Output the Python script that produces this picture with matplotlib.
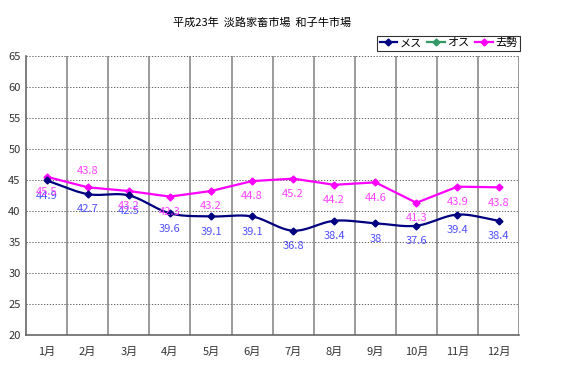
import numpy as np
import matplotlib
matplotlib.use("Agg")
import matplotlib.pyplot as plt
from matplotlib.lines import Line2D

plt.rcParams['font.family'] = ['Noto Sans CJK JP', 'DejaVu Sans']

# data
months = ['1月', '2月', '3月', '4月', '5月', '6月', '7月', '8月', '9月', '10月', '11月', '12月']
mesu = [44.9, 42.7, 42.5, 39.6, 39.1, 39.1, 36.8, 38.4, 38.0, 37.6, 39.4, 38.4]
mesu_labels = ['44.9', '42.7', '42.5', '39.6', '39.1', '39.1', '36.8', '38.4', '38', '37.6', '39.4', '38.4']
kyosei = [45.5, 43.8, 43.2, 42.3, 43.2, 44.8, 45.2, 44.2, 44.6, 41.3, 43.9, 43.8]
kyosei_labels = ['45.5', '43.8', '43.2', '42.3', '43.2', '44.8', '45.2', '44.2', '44.6', '41.3', '43.9', '43.8']
kyosei_above = [False, True, False, False, False, False, False, False, False, False, False, False]

NAVY = '#000080'
PINK = '#ff00ff'
GREEN = '#339966'


def smooth(x, y, n=20):
    # catmull-rom curve through the points, like excel's smoothed line
    x = np.asarray(x, float)
    y = np.asarray(y, float)
    px = np.concatenate([[2 * x[0] - x[1]], x, [2 * x[-1] - x[-2]]])
    py = np.concatenate([[2 * y[0] - y[1]], y, [2 * y[-1] - y[-2]]])
    xs, ys = [], []
    t = np.linspace(0, 1, n, endpoint=False)
    for i in range(1, len(px) - 2):
        for p, out in ((px, xs), (py, ys)):
            p0, p1, p2, p3 = p[i - 1], p[i], p[i + 1], p[i + 2]
            out.extend(0.5 * ((2 * p1) + (-p0 + p2) * t
                              + (2 * p0 - 5 * p1 + 4 * p2 - p3) * t ** 2
                              + (-p0 + 3 * p1 - 3 * p2 + p3) * t ** 3))
    xs.append(x[-1])
    ys.append(y[-1])
    return xs, ys


fig = plt.figure(figsize=(5.8, 3.7), dpi=100)
ax = fig.add_axes([0.045, 0.095, 0.85, 0.754])

x = np.arange(len(months))
ax.set_xlim(-0.5, len(months) - 0.5)
ax.set_ylim(20, 65)

# grid
for yv in range(25, 66, 5):
    ax.axhline(yv, color='#444444', lw=0.6, ls=(0, (1.5, 2)), zorder=1)
for xv in np.arange(0.5, len(months) - 0.5, 1):
    ax.axvline(xv, color='#808080', lw=1.1, zorder=1)
ax.axvline(len(months) - 0.5, color='#909090', lw=1.3, zorder=1)

sx, sy = smooth(x, mesu)
ax.plot(sx, sy, color=NAVY, lw=1.6, zorder=3)
ax.plot(x, mesu, ls='none', marker='D', ms=3.5, color=NAVY, zorder=4)
ax.plot(x, kyosei, color=PINK, lw=1.6, marker='D', ms=3.5, zorder=3)

for xi, v, s in zip(x, mesu, mesu_labels):
    ax.annotate(s, (xi, v), xytext=(0, -11), textcoords='offset points',
                ha='center', va='center', fontsize=8, color='#5050ff', zorder=5)
for xi, v, s, up in zip(x, kyosei, kyosei_labels, kyosei_above):
    ax.annotate(s, (xi, v), xytext=(0, 12 if up else -11), textcoords='offset points',
                ha='center', va='center', fontsize=8, color='#ff44ff', zorder=5)

ax.set_xticks(x)
ax.set_xticklabels(months)
ax.set_yticks(range(20, 66, 5))
ax.tick_params(axis='both', length=0, labelsize=8, colors='#333333', pad=9)
ax.tick_params(axis='y', pad=4)
for side in ('top', 'right'):
    ax.spines[side].set_visible(False)
for side in ('left', 'bottom'):
    ax.spines[side].set_color('#666666')
    ax.spines[side].set_linewidth(1.2)

fig.text(0.452, 0.94, '平成23年  淡路家畜市場  和子牛市場', ha='center', va='center',
         fontsize=8, color='black')

handles = [Line2D([], [], color=c, lw=1.6, marker='D', ms=3.5) for c in (NAVY, GREEN, PINK)]
leg = fig.legend(handles, ['メス', 'オス', '去勢'], loc='center right',
                 bbox_to_anchor=(0.896, 0.883), ncol=3, fontsize=8, frameon=True,
                 fancybox=False, edgecolor='black', handlelength=1.6, handletextpad=0.2,
                 columnspacing=0.5, borderpad=0.2, borderaxespad=0)
leg.get_frame().set_linewidth(0.8)

fig.savefig('out.png', dpi=100, facecolor='white')
